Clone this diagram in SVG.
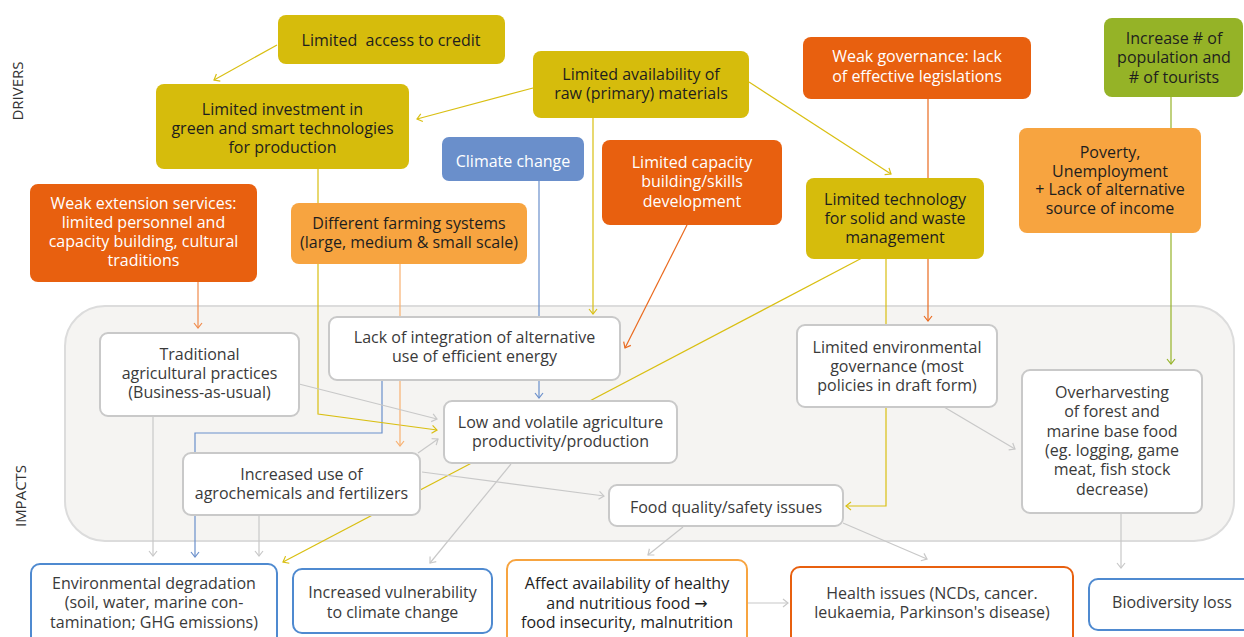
<svg xmlns="http://www.w3.org/2000/svg" width="1244" height="637" viewBox="0 0 1244 637">
<style>
text{font-family:"Open Sans","Noto Sans","DejaVu Sans",sans-serif;font-size:16px;text-anchor:middle}
.dk{fill:#1e1e1e}.wt{fill:#ffffff}.gt{fill:#3a3a3a}
.yel{fill:#d6bc0c}.red{fill:#e8600f}.lor{fill:#f7a440}.grn{fill:#95b327}.blu{fill:#6a8fcb}
.imp{fill:#ffffff;stroke:#c9c9c9;stroke-width:2}
.out{fill:#ffffff;stroke-width:2}
.c{fill:none;stroke-width:1.2}
.cy{stroke:#d9bf12}.cg{stroke:#c8c8c8}.cb{stroke:#6a8fcb}.cr{stroke:#ea6a1f}.cs{stroke:#f08a4b}.cl{stroke:#f8b070}.cn{stroke:#95b327}
.side{font-size:15px;fill:#333}
</style>
<defs>
<marker id="my" viewBox="-7 -5 8 10" refX="0" refY="0" markerWidth="8" markerHeight="10" orient="auto" markerUnits="userSpaceOnUse" overflow="visible"><path d="M-5,-4 L0,0 L-5,4" fill="none" stroke="#d9bf12" stroke-width="1.2"/></marker>
<marker id="mg" viewBox="-7 -5 8 10" refX="0" refY="0" markerWidth="8" markerHeight="10" orient="auto" markerUnits="userSpaceOnUse" overflow="visible"><path d="M-5,-4 L0,0 L-5,4" fill="none" stroke="#c8c8c8" stroke-width="1.2"/></marker>
<marker id="mb" viewBox="-7 -5 8 10" refX="0" refY="0" markerWidth="8" markerHeight="10" orient="auto" markerUnits="userSpaceOnUse" overflow="visible"><path d="M-5,-4 L0,0 L-5,4" fill="none" stroke="#6a8fcb" stroke-width="1.2"/></marker>
<marker id="mr" viewBox="-7 -5 8 10" refX="0" refY="0" markerWidth="8" markerHeight="10" orient="auto" markerUnits="userSpaceOnUse" overflow="visible"><path d="M-5,-4 L0,0 L-5,4" fill="none" stroke="#ea6a1f" stroke-width="1.2"/></marker>
<marker id="ms" viewBox="-7 -5 8 10" refX="0" refY="0" markerWidth="8" markerHeight="10" orient="auto" markerUnits="userSpaceOnUse" overflow="visible"><path d="M-5,-4 L0,0 L-5,4" fill="none" stroke="#f08a4b" stroke-width="1.2"/></marker>
<marker id="ml" viewBox="-7 -5 8 10" refX="0" refY="0" markerWidth="8" markerHeight="10" orient="auto" markerUnits="userSpaceOnUse" overflow="visible"><path d="M-5,-4 L0,0 L-5,4" fill="none" stroke="#f8b070" stroke-width="1.2"/></marker>
<marker id="mn" viewBox="-7 -5 8 10" refX="0" refY="0" markerWidth="8" markerHeight="10" orient="auto" markerUnits="userSpaceOnUse" overflow="visible"><path d="M-5,-4 L0,0 L-5,4" fill="none" stroke="#95b327" stroke-width="1.2"/></marker>
</defs>
<rect width="1244" height="637" fill="#ffffff"/>
<g id="impacts-area">
<rect x="65" y="306" width="1169" height="235" rx="40" fill="#f5f4f2" stroke="#dcdcdc" stroke-width="2"/>
</g>
<text class="side" transform="translate(23,91) rotate(-90)">DRIVERS</text>
<text class="side" transform="translate(26,496) rotate(-90)">IMPACTS</text>
<g id="connectors">
<path class="c cy" d="M277,45 L214,80" marker-end="url(#my)"/>
<path class="c cy" d="M533,88 L417,119" marker-end="url(#my)"/>
<path class="c cy" d="M749,82 L891,174" marker-end="url(#my)"/>
<path class="c cy" d="M593,118 L593,314" marker-end="url(#my)"/>
<path class="c cb" d="M539,181 L539,398" marker-end="url(#mb)"/>
<path class="c cb" d="M382,380 L382,433 L195,433 L195,557" marker-end="url(#mb)"/>
<path class="c cr" d="M687,225 L625,348" marker-end="url(#mr)"/>
<path class="c cy" d="M862,258 L283,562" marker-end="url(#my)"/>
<path class="c cy" d="M886,259 L886,506 L846,506" marker-end="url(#my)"/>
<path class="c cr" d="M928,99 L928,321" marker-end="url(#mr)"/>
<path class="c cn" d="M1171,97 L1171,364" marker-end="url(#mn)"/>
<path class="c cs" d="M198,282 L198,328" marker-end="url(#ms)"/>
<path class="c cy" d="M318,169 L318,414 L437,430" marker-end="url(#my)"/>
<path class="c cl" d="M400,264 L400,446" marker-end="url(#ml)"/>
<path class="c cg" d="M299,384 L437,419" marker-end="url(#mg)"/>
<path class="c cg" d="M418,453 L438,439" marker-end="url(#mg)"/>
<path class="c cg" d="M422,472 L604,496" marker-end="url(#mg)"/>
<path class="c cg" d="M511,464 L430,563" marker-end="url(#mg)"/>
<path class="c cg" d="M683,527 L648,555" marker-end="url(#mg)"/>
<path class="c cg" d="M843,523 L927,559" marker-end="url(#mg)"/>
<path class="c cg" d="M944,407 L1015,449" marker-end="url(#mg)"/>
<path class="c cg" d="M1121,513 L1121,568" marker-end="url(#mg)"/>
<path class="c cg" d="M747,603 L788,603" marker-end="url(#mg)"/>
<path class="c cg" d="M153,416 L153,556" marker-end="url(#mg)"/>
<path class="c cg" d="M259,515 L259,556" marker-end="url(#mg)"/>
</g>
<g id="n-credit"><rect class="yel" x="278" y="15" width="227" height="49" rx="8"/><text class="dk" x="391" y="45.5" style="white-space:pre">Limited  access to credit</text></g>
<g id="n-investment"><rect class="yel" x="156" y="84" width="253" height="85" rx="8"/><text class="dk" x="282.5" y="114.5">Limited investment in</text><text class="dk" x="282.5" y="133.5">green and smart technologies</text><text class="dk" x="282.5" y="152.5">for production</text></g>
<g id="n-raw"><rect class="yel" x="533" y="51" width="216" height="67" rx="8"/><text class="dk" x="641" y="79.5">Limited availability of</text><text class="dk" x="641" y="98.5">raw (primary) materials</text></g>
<g id="n-climate"><rect class="blu" x="442" y="137" width="142" height="44" rx="7"/><text class="wt" x="513" y="166.5">Climate change</text></g>
<g id="n-capacity"><rect class="red" x="602" y="140" width="180" height="85" rx="8"/><text class="wt" x="692" y="167.5">Limited capacity</text><text class="wt" x="692" y="187">building/skills</text><text class="wt" x="692" y="206.5">development</text></g>
<g id="n-governance"><rect class="red" x="803" y="37" width="228" height="62" rx="8"/><text class="wt" x="917" y="61.5">Weak governance: lack</text><text class="wt" x="917" y="81.5">of effective legislations</text></g>
<g id="n-population"><rect class="grn" x="1104" y="18" width="139" height="79" rx="8"/><text class="dk" x="1174" y="43.5">Increase # of</text><text class="dk" x="1174" y="63">population and</text><text class="dk" x="1174" y="82.5"># of tourists</text></g>
<g id="n-poverty"><rect class="lor" x="1019" y="128" width="182" height="105" rx="8"/><text class="dk" x="1110" y="157.5">Poverty,</text><text class="dk" x="1110" y="176.5">Unemployment</text><text class="dk" x="1110" y="195">+ Lack of alternative</text><text class="dk" x="1110" y="214">source of income</text></g>
<g id="n-waste"><rect class="yel" x="806" y="178" width="178" height="81" rx="8"/><text class="dk" x="895" y="204.5">Limited technology</text><text class="dk" x="895" y="223.5">for solid and waste</text><text class="dk" x="895" y="243">management</text></g>
<g id="n-extension"><rect class="red" x="30" y="184" width="227" height="98" rx="8"/><text class="wt" x="143.5" y="208.5">Weak extension services:</text><text class="wt" x="143.5" y="228">limited personnel and</text><text class="wt" x="143.5" y="247">capacity building, cultural</text><text class="wt" x="143.5" y="266">traditions</text></g>
<g id="n-farming"><rect class="lor" x="291" y="203" width="236" height="61" rx="8"/><text class="dk" x="409" y="228.5">Different farming systems</text><text class="dk" x="409" y="247.5">(large, medium &amp; small scale)</text></g>
<g id="n-traditional"><rect class="imp" x="100" y="333" width="199" height="83" rx="8"/><text class="gt" x="199.5" y="359.5">Traditional</text><text class="gt" x="199.5" y="378.5">agricultural practices</text><text class="gt" x="199.5" y="397.5">(Business-as-usual)</text></g>
<g id="n-energy"><rect class="imp" x="329" y="317" width="291" height="63" rx="8"/><text class="gt" x="474.5" y="342.5">Lack of integration of alternative</text><text class="gt" x="474.5" y="362">use of efficient energy</text></g>
<g id="n-productivity"><rect class="imp" x="444" y="401" width="233" height="62" rx="8"/><text class="gt" x="560.5" y="427.5">Low and volatile agriculture</text><text class="gt" x="560.5" y="446.5">productivity/production</text></g>
<g id="n-agrochem"><rect class="imp" x="183" y="453" width="237" height="62" rx="8"/><text class="gt" x="301.5" y="479.5">Increased use of</text><text class="gt" x="301.5" y="498.5">agrochemicals and fertilizers</text></g>
<g id="n-foodsafety"><rect class="imp" x="609" y="485" width="234" height="41" rx="8"/><text class="gt" x="726" y="512.5">Food quality/safety issues</text></g>
<g id="n-envgov"><rect class="imp" x="797" y="325" width="200" height="82" rx="8"/><text class="gt" x="897" y="352.5">Limited environmental</text><text class="gt" x="897" y="371.5">governance (most</text><text class="gt" x="897" y="390.5">policies in draft form)</text></g>
<g id="n-overharvest"><rect class="imp" x="1022" y="370" width="180" height="143" rx="8"/><text class="gt" x="1112" y="397.5">Overharvesting</text><text class="gt" x="1112" y="417">of forest and</text><text class="gt" x="1112" y="436.5">marine base food</text><text class="gt" x="1112" y="456">(eg. logging, game</text><text class="gt" x="1112" y="475">meat, fish stock</text><text class="gt" x="1112" y="494.5">decrease)</text></g>
<g id="n-envdeg"><rect class="out" stroke="#4f8ad0" x="31" y="564" width="246" height="90" rx="9"/><text class="gt" x="154" y="588.5">Environmental degradation</text><text class="gt" x="154" y="608">(soil, water, marine con-</text><text class="gt" x="154" y="627.5">tamination; GHG emissions)</text></g>
<g id="n-vulnerability"><rect class="out" stroke="#4f8ad0" x="293" y="569" width="199" height="64" rx="9"/><text class="gt" x="392.5" y="598">Increased vulnerability</text><text class="gt" x="392.5" y="617.5">to climate change</text></g>
<g id="n-foodaccess"><rect class="out" stroke="#f7a440" x="507" y="560" width="240" height="95" rx="9"/><text class="dk" x="627" y="589">Affect availability of healthy</text><text class="dk" x="627" y="608.5">and nutritious food →</text><text class="dk" x="627" y="627.5">food insecurity, malnutrition</text></g>
<g id="n-health"><rect class="out" stroke="#e8600f" x="791" y="567" width="282" height="85" rx="9"/><text class="gt" x="932" y="598.5">Health issues (NCDs, cancer.</text><text class="gt" x="932" y="617.5">leukaemia, Parkinson's disease)</text></g>
<g id="n-biodiversity"><rect class="out" stroke="#4f8ad0" x="1089" y="579" width="170" height="51" rx="9"/><text class="gt" x="1172" y="608">Biodiversity loss</text></g>
</svg>
